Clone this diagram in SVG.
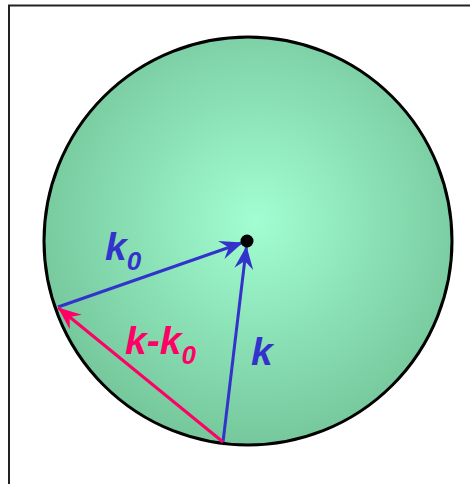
<svg xmlns="http://www.w3.org/2000/svg" width="470" height="484" viewBox="0 0 470 484">
<style>
.lbl{font-family:"Liberation Sans",Arial,sans-serif;font-weight:bold;font-style:italic}
.blue{fill:#3333cc}
.pink{fill:#ff0066}
</style>
<defs>
<radialGradient id="g" cx="0.52" cy="0.45" r="0.55">
<stop offset="0" stop-color="#a2fed2"/>
<stop offset="1" stop-color="#76c79c"/>
</radialGradient>
<marker id="ab" markerUnits="userSpaceOnUse" viewBox="-24 -10 26 20" markerWidth="26" markerHeight="20" refX="0" refY="0" orient="auto">
<path d="M0,0 L-23,-9.5 L-15,0 L-23,9.5 Z" fill="#3333cc"/>
</marker>
<marker id="ap" markerUnits="userSpaceOnUse" viewBox="-24 -10 26 20" markerWidth="26" markerHeight="20" refX="0" refY="0" orient="auto">
<path d="M0,0 L-23,-9.5 L-15,0 L-23,9.5 Z" fill="#ff0066"/>
</marker>
</defs>
<rect x="9" y="5.5" width="480" height="500" fill="#ffffff" stroke="#222222" stroke-width="2"/>
<g id="sphere">
<circle cx="248" cy="241" r="204" fill="url(#g)" stroke="#000000" stroke-width="3"/>
</g>
<g id="connectors" fill="none" stroke-width="3">
<line x1="58" y1="307" x2="243" y2="242.5" stroke="#3333cc" marker-end="url(#ab)"/>
<line x1="223" y1="442" x2="246.5" y2="246" stroke="#3333cc" marker-end="url(#ab)"/>
<line x1="223" y1="442" x2="58" y2="307.5" stroke="#ff0066" marker-end="url(#ap)"/>
</g>
<g id="center">
<circle cx="247" cy="241" r="6.5" fill="#000000"/>
</g>
<g id="label-k0">
<text class="lbl blue" x="105" y="260" font-size="39">k<tspan font-size="26" dy="10">0</tspan></text>
</g>
<g id="label-kk0">
<text class="lbl pink" x="125" y="354" font-size="39">k-k<tspan font-size="26" dy="10">0</tspan></text>
</g>
<g id="label-k">
<text class="lbl blue" x="251" y="365" font-size="39">k</text>
</g>
</svg>
